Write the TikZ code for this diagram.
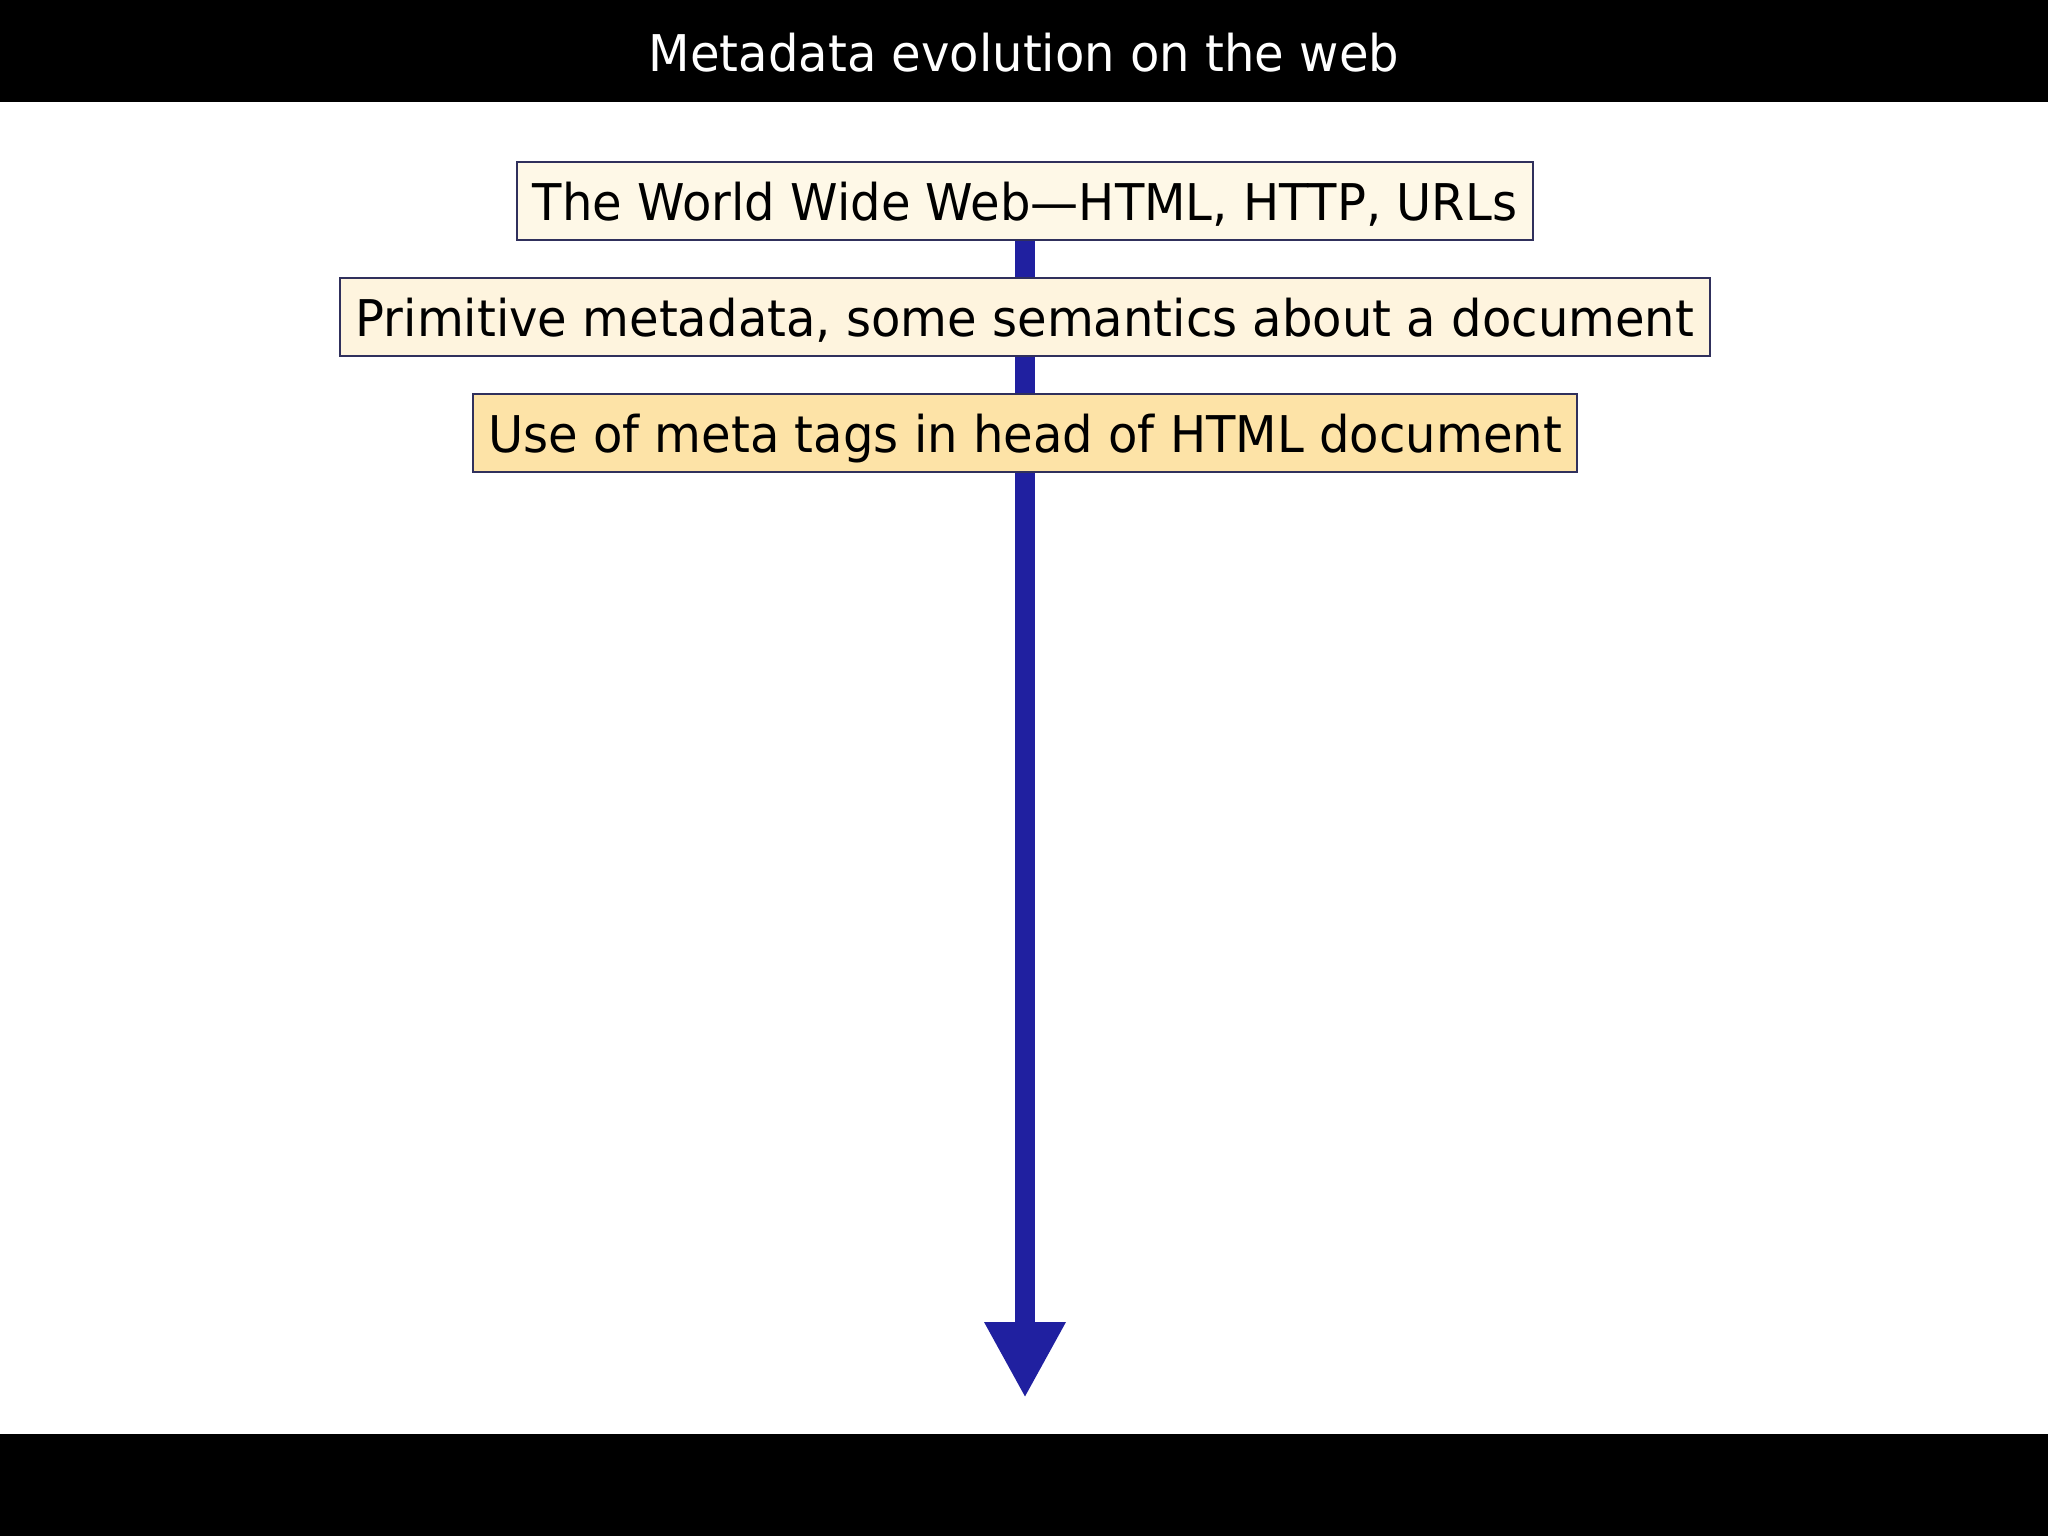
\documentclass[tikz,border=0pt]{standalone}
\usepackage{fontspec}
\setmainfont[FakeStretch=0.95]{DejaVu Sans}
\usetikzlibrary{arrows.meta,positioning,backgrounds}

\definecolor{boxline}{HTML}{30305C}
\definecolor{creamA}{HTML}{FEF8E7}
\definecolor{creamB}{HTML}{FEF4DE}
\definecolor{tagorange}{HTML}{FDE3A7}
\definecolor{arrowblue}{HTML}{2020A0}

\begin{document}
\begin{tikzpicture}[
    stepbox/.style={draw=boxline,line width=0.55pt,inner xsep=0.155cm,
        minimum height=0.78cm,text height=0.4cm,text depth=0cm,
        font=\fontsize{14.4}{17}\selectfont},
    node distance=0.36cm
]
    % page of 2048 x 1536
    \useasboundingbox (0,0) rectangle (20.48,-15.36);

    % title in the top bar
    \node[text=white,anchor=base,font=\fontsize{14.4}{17}\selectfont] (title) at (10.24,-0.72) {Metadata evolution on the web};

    % the three steps, one below the other
    \node[stepbox,fill=creamA] (web) at (10.25,-2.01) {The World Wide Web—HTML, HTTP, URLs};
    \node[stepbox,fill=creamB,below=of web] (primitive) {Primitive metadata, some semantics about a document};
    \node[stepbox,fill=tagorange,below=of primitive] (metatags) {Use of meta tags in head of HTML document};

    % end of the time arrow
    \coordinate (tip) at (10.24,-13.98);

    \begin{scope}[on background layer]
        % white page, black bars top and bottom
        \fill[white] (0,0) rectangle (20.48,-15.36);
        \fill[black] (0,0) rectangle (20.48,-1.02);
        \fill[black] (0,-14.34) rectangle (20.48,-15.36);
        % arrow behind the boxes
        \draw[arrowblue,line width=0.2cm,-{Triangle[width=0.76cm,length=0.76cm]}] (web.south) -- (web.south |- tip);
    \end{scope}
\end{tikzpicture}
\end{document}
